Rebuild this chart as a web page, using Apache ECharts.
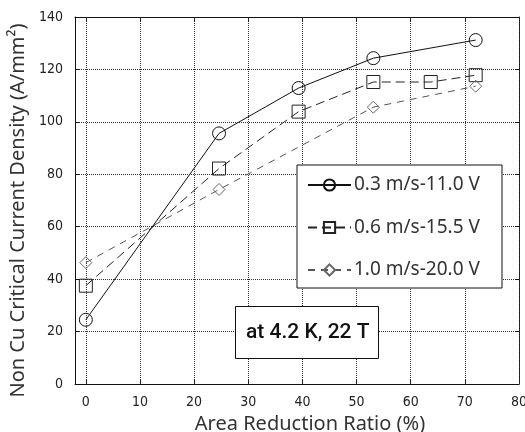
<!DOCTYPE html>
<html>
<head>
<meta charset="utf-8">
<script src="https://cdn.jsdelivr.net/npm/echarts@6/dist/echarts.min.js"></script>
<style>html,body{margin:0;padding:0;background:#fff;}#c{width:525px;height:432px;}</style>
</head>
<body>
<div id="c"></div>
<script>
const seriesNames = ['0.3 m/s-11.0 V', '0.6 m/s-15.5 V', '1.0 m/s-20.0 V'];
const s1x = [0, 24.6, 39.3, 53.1, 72];
const s1y = [24.5, 95.6, 112.9, 124.3, 131.2];
const s2x = [0, 24.6, 39.3, 53.1, 63.7, 72];
const s2y = [37.5, 82.2, 103.9, 115.2, 115.2, 117.8];
const s3x = [0, 24.6, 53.1, 72];
const s3y = [46.3, 74.2, 105.6, 113.6];
const xTicks = [0, 10, 20, 30, 40, 50, 60, 70, 80];
const xTitle = 'Area Reduction Ratio (%)';
const yTitle = 'Non Cu Critical Current Density (A/mm²)';
const annotation = 'at 4.2 K, 22 T';

const pair = (xs, ys) => xs.map((x, i) => [x, ys[i]]);
const tickFont = '"DejaVu Sans Condensed", "Liberation Sans Narrow", sans-serif';
const chart = echarts.init(document.getElementById('c'), null, {renderer: 'canvas'});

const commonAxisLine = {show: true, onZero: false, lineStyle: {color: '#111', width: 1}};
const option = {
  backgroundColor: '#fff',
  animation: false,
  grid: {left: 75, right: 6, top: 17, bottom: 48, containLabel: false, outerBoundsMode: 'none'},
  xAxis: [{
    type: 'value', min: -2, max: 80, position: 'bottom',
    name: xTitle, nameLocation: 'middle', nameGap: 23,
    nameTextStyle: {fontFamily: '"Noto Sans", sans-serif', fontSize: 20, color: '#333', padding: [0, 0, 0, 26]},
    axisLine: commonAxisLine,
    axisTick: {show: true, inside: true, length: 4, customValues: xTicks, lineStyle: {color: '#111'}},
    axisLabel: {customValues: xTicks, margin: 11, fontFamily: tickFont, fontSize: 14, color: '#222'},
    splitLine: {show: false}
  }, {
    type: 'value', min: -2, max: 80, position: 'top',
    axisLine: commonAxisLine,
    axisTick: {show: true, inside: true, length: 4, customValues: xTicks, lineStyle: {color: '#111'}},
    axisLabel: {show: false},
    splitLine: {show: false}
  }],
  yAxis: [{
    type: 'value', min: 0, max: 140, interval: 20, position: 'left',
    name: yTitle, nameLocation: 'middle', nameGap: 44, nameRotate: 90,
    nameTextStyle: {fontFamily: '"Noto Sans", sans-serif', fontSize: 20, color: '#333', padding: [0, 20, 0, 0]},
    axisLine: commonAxisLine,
    axisTick: {show: true, inside: true, length: 4, lineStyle: {color: '#111'}},
    axisLabel: {margin: 12, fontFamily: tickFont, fontSize: 14, color: '#222'},
    splitLine: {show: true, lineStyle: {color: '#333', type: 'dotted', width: 1}}
  }, {
    type: 'value', min: 0, max: 140, interval: 20, position: 'right',
    axisLine: commonAxisLine,
    axisTick: {show: true, inside: true, length: 4, lineStyle: {color: '#111'}},
    axisLabel: {show: false},
    splitLine: {show: false}
  }],
  legend: {
    orient: 'vertical', left: 297, top: 165, padding: [10, 10, 8, 10],
    itemWidth: 43, itemHeight: 14, itemGap: 22.5,
    textStyle: {fontFamily: '"Noto Sans", sans-serif', fontSize: 19, color: '#333', lineHeight: 20, padding: [0, 0, 0, -2]},
    data: seriesNames, z: 5
  },
  graphic: [
    {type: 'rect', z: 4, shape: {x: 297, y: 165, width: 205, height: 123},
     style: {fill: '#fff', stroke: '#111', lineWidth: 1}},
    {type: 'rect', z: 4, shape: {x: 235.5, y: 306.5, width: 143, height: 52},
     style: {fill: '#fff', stroke: '#111', lineWidth: 1}},
    {type: 'text', z: 5, x: 246, y: 333,
     style: {text: annotation, fontFamily: 'Roboto, sans-serif', fontWeight: 500, fontSize: 21, fill: '#111', textVerticalAlign: 'middle'}}
  ],
  series: [
    {
      name: seriesNames[0], type: 'line', data: pair(s1x, s1y),
      symbol: 'circle', symbolSize: 13,
      itemStyle: {color: 'rgba(255,255,255,0)', borderColor: '#111', borderWidth: 1},
      lineStyle: {color: '#111', width: 1, type: 'solid'},
      markLine: {
        silent: true, symbol: 'none', label: {show: false},
        lineStyle: {color: '#333', type: 'dotted', width: 1},
        data: xTicks.map(v => ({xAxis: v})), z: 1
      }
    },
    {
      name: seriesNames[1], type: 'line', data: pair(s2x, s2y),
      symbol: 'rect', symbolSize: 13,
      itemStyle: {color: 'rgba(255,255,255,0)', borderColor: '#222', borderWidth: 1},
      lineStyle: {color: '#222', width: 1, type: [9, 5]}
    },
    {
      name: seriesNames[2], type: 'line', data: pair(s3x, s3y),
      symbol: 'diamond', symbolSize: 12,
      itemStyle: {color: 'rgba(255,255,255,0)', borderColor: '#666', borderWidth: 1},
      lineStyle: {color: '#555', width: 1, type: [7, 6]}
    }
  ]
};
chart.setOption(option);
</script>
</body>
</html>
